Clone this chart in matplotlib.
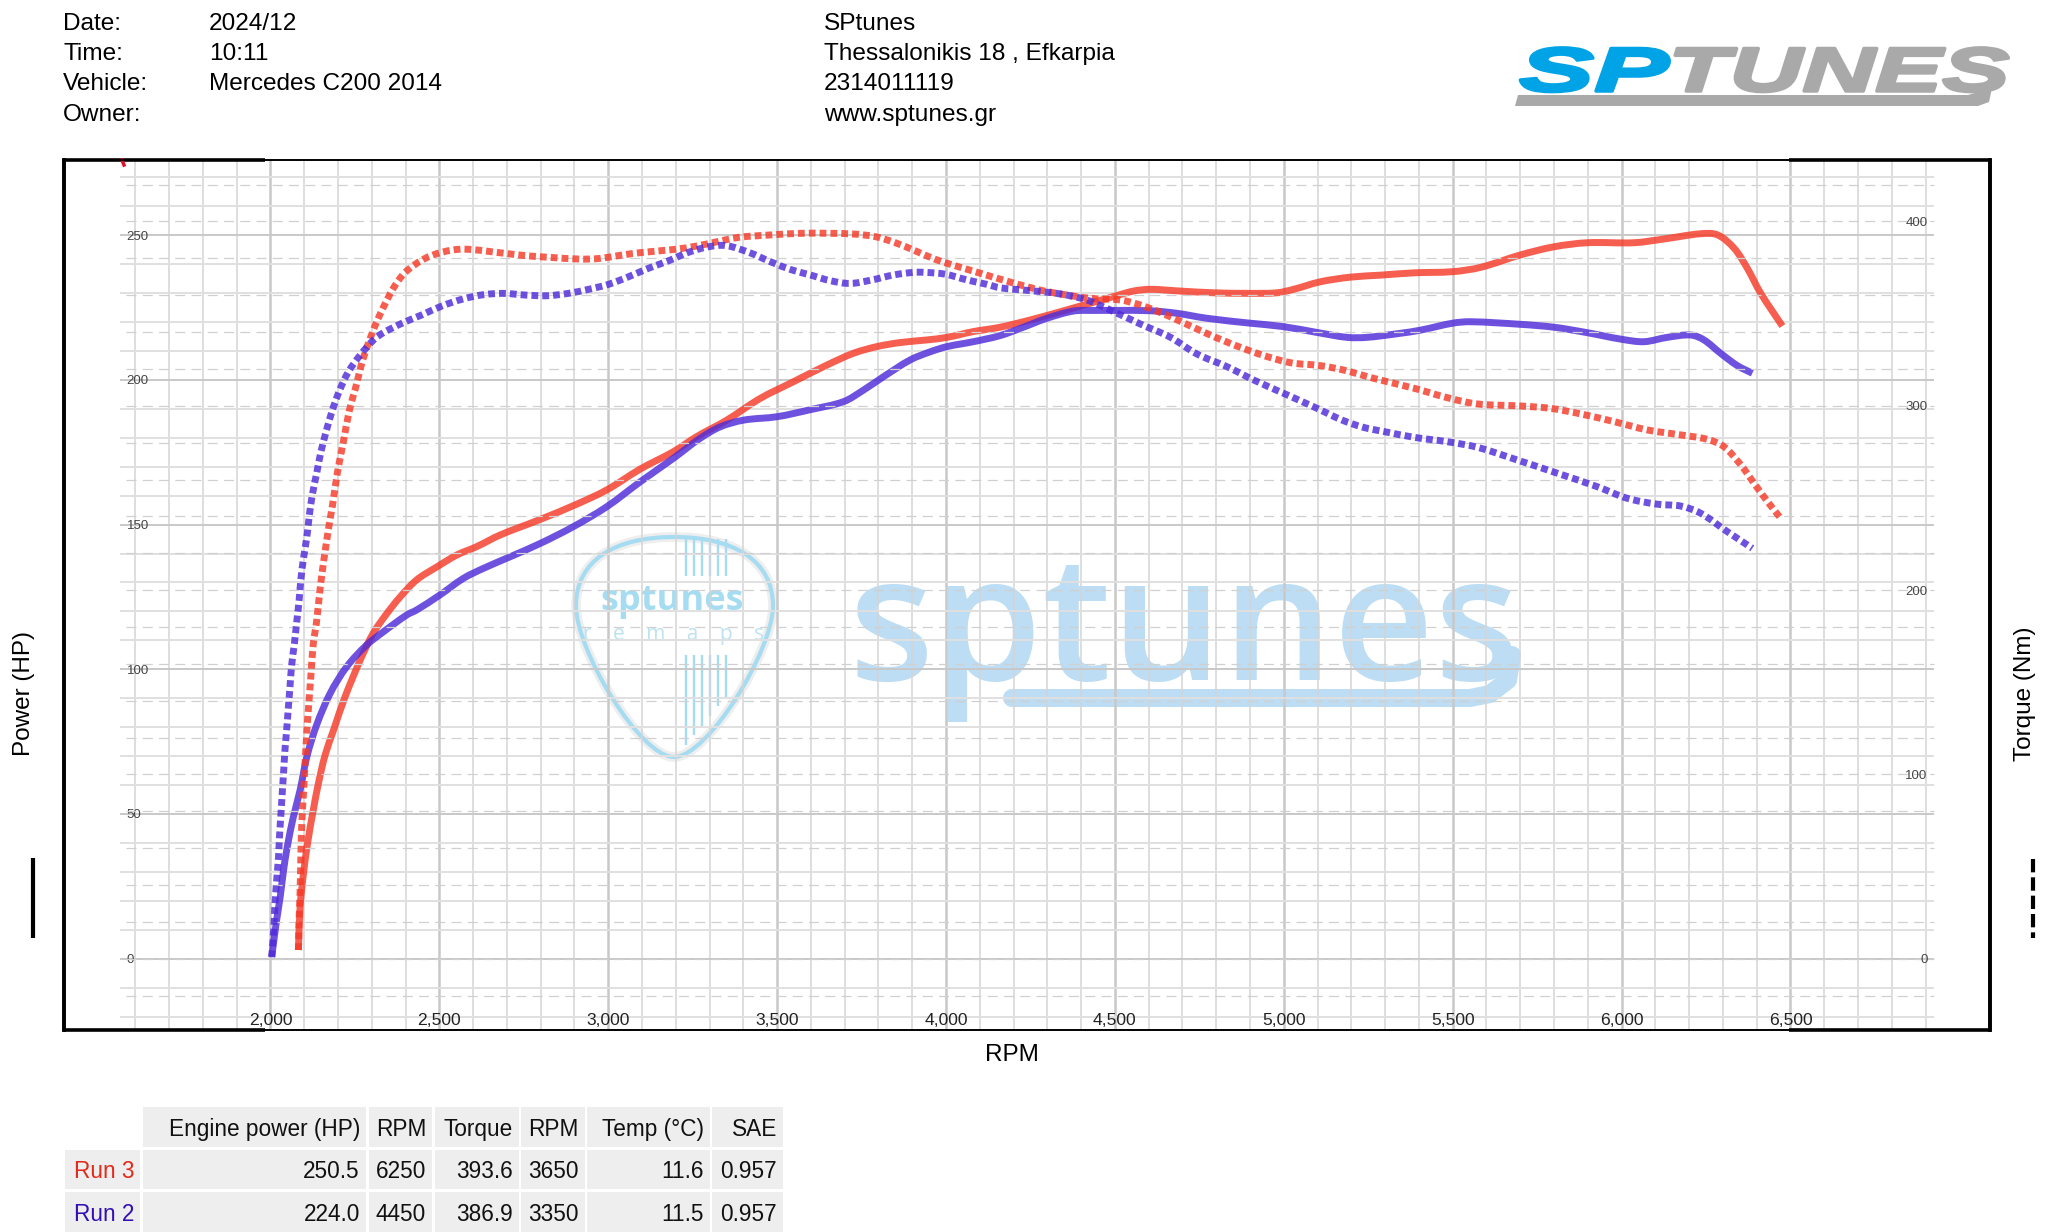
import matplotlib
matplotlib.use("Agg")
import matplotlib.pyplot as plt
import matplotlib.patheffects as pe
import numpy as np
from matplotlib.patches import Rectangle, Polygon, PathPatch
from matplotlib.path import Path
from matplotlib.transforms import Affine2D

plt.rcParams["font.family"] = ["Liberation Sans", "DejaVu Sans"]

# header block
header_keys = ["Date:", "Time:", "Vehicle:", "Owner:"]
header_vals = ["2024/12", "10:11", "Mercedes C200 2014", ""]
shop_lines = ["SPtunes", "Thessalonikis 18 , Efkarpia", "2314011119", "www.sptunes.gr"]

# Run 3 power (HP)
run3_power_rpm = [2083, 2088, 2098, 2110, 2127, 2142, 2162, 2187, 2221, 2266, 2304, 2345, 2384, 2433, 2493,
                  2552, 2611, 2680, 2799, 2902, 2996, 3095, 3193, 3262, 3351, 3450, 3549, 3647, 3726, 3795,
                  3864, 3943, 4003, 4081, 4160, 4259, 4358, 4427, 4496, 4555, 4605, 4693, 4792, 4900, 4980,
                  5029, 5108, 5197, 5287, 5386, 5500, 5583, 5701, 5800, 5899, 6037, 6126, 6234, 6284, 6333,
                  6372, 6412, 6476]
run3_power = [3, 18, 29.5, 39.9, 51.4, 60.5, 70.4, 79, 90.5, 103.2, 112.4, 119.3, 125, 130.9, 135.4,
              139.5, 142.4, 146.4, 151.8, 156.8, 162, 169.2, 175.2, 180.4, 186.1, 193.6, 199.4, 205.1, 209.2, 211.5,
              212.9, 213.8, 214.7, 216.7, 218.2, 221, 224.2, 226.5, 228.8, 230.7, 231.3, 230.7, 230.1, 229.9, 230.1,
              231.3, 233.9, 235.5, 236.2, 237, 237.4, 238.9, 243.2, 246, 247.4, 247.4, 248.7, 250.5, 250.1, 245.5,
              238.6, 229.9, 218.6]

# Run 2 power (HP)
run2_power_rpm = [2004, 2017, 2029, 2039, 2050, 2068, 2088, 2108, 2137, 2177, 2226, 2285, 2335, 2404, 2433,
                  2502, 2571, 2631, 2710, 2799, 2897, 2996, 3095, 3193, 3272, 3332, 3401, 3501, 3598, 3697,
                  3756, 3815, 3894, 3953, 4003, 4081, 4160, 4220, 4299, 4378, 4437, 4496, 4605, 4684, 4772,
                  4900, 4999, 5098, 5187, 5246, 5345, 5405, 5500, 5553, 5701, 5800, 5899, 5997, 6066, 6135,
                  6205, 6244, 6293, 6343, 6387]
run2_power = [0.7, 12.2, 21.4, 30.6, 38.7, 49, 58.3, 69.8, 80.8, 91.7, 100.9, 108.4, 113, 118.8, 120.5,
              125.7, 131.4, 134.9, 138.9, 143.5, 149.3, 156.2, 164.8, 172.9, 179.8, 183.8, 186.1, 187.3, 189.7, 192.5,
              196.5, 201.1, 206.9, 209.7, 211.5, 213.2, 215.3, 217.8, 221.3, 223.8, 224.0, 224.0, 223.9, 223, 221.3,
              219.6, 218.4, 216.4, 214.7, 214.7, 216.1, 217.2, 219.6, 220.1, 219.2, 218.2, 216.3, 214.1, 213.2, 214.7,
              215.5, 213.8, 209.2, 204.9, 202.3]

# Run 3 torque (Nm)
run3_torque_rpm = [2083, 2085, 2088, 2090, 2093, 2098, 2108, 2113, 2120, 2127, 2137, 2147, 2159, 2173, 2184,
                   2198, 2216, 2234, 2251, 2275, 2308, 2333, 2364, 2399, 2453, 2507, 2572, 2695, 2759, 2823,
                   2917, 2976, 3040, 3105, 3198, 3262, 3322, 3386, 3480, 3573, 3650, 3726, 3790, 3850, 3909,
                   3968, 4027, 4086, 4151, 4269, 4338, 4427, 4516, 4585, 4664, 4753, 4841, 4930, 5019, 5108,
                   5177, 5266, 5386, 5484, 5573, 5701, 5790, 5879, 5978, 6076, 6175, 6254, 6303, 6353, 6392,
                   6432, 6471]
run3_torque = [4.7, 21, 37.3, 54, 73.5, 90, 124, 136.7, 154, 171, 183.3, 200.6, 217.3, 234.4, 246.2,
               263.4, 280.5, 297.7, 309, 325.8, 342.6, 352.9, 363.8, 372.4, 379.5, 383.3, 385, 382.7, 381.4, 380.6,
               379.6, 380, 381.8, 383.3, 384.9, 386.7, 389, 391.4, 392.7, 393.6, 393.6, 393.2, 391.8, 388.5, 384.1,
               379.5, 376, 372.8, 369.2, 363.2, 360.7, 358.3, 357.4, 354.1, 348.3, 340.8, 333.9, 327.9, 323.4, 321.8,
               319.4, 314.9, 309.5, 304.4, 301, 299.9, 298.6, 295.6, 291.4, 286.9, 284.2, 281.8, 277.8, 267.9, 258,
               248, 239]

# Run 2 torque (Nm)
run2_torque_rpm = [2004, 2007, 2011, 2014, 2019, 2024, 2027, 2031, 2035, 2039, 2043, 2048, 2053, 2058, 2063,
                   2071, 2078, 2085, 2090, 2098, 2108, 2115, 2124, 2137, 2149, 2165, 2182, 2204, 2231, 2268,
                   2307, 2335, 2392, 2448, 2507, 2571, 2631, 2690, 2754, 2818, 2882, 2942, 3001, 3060, 3119,
                   3179, 3238, 3297, 3350, 3420, 3480, 3539, 3598, 3657, 3716, 3781, 3845, 3904, 3938, 3998,
                   4062, 4121, 4161, 4249, 4338, 4417, 4486, 4575, 4664, 4743, 4832, 4911, 4999, 5088, 5172,
                   5236, 5297, 5386, 5484, 5573, 5691, 5810, 5928, 6017, 6106, 6175, 6234, 6313, 6387]
run2_torque = [0.8, 8.4, 20, 31, 43.6, 55.3, 66.6, 78, 89.7, 101, 112.9, 124, 135.9, 147.6, 159.4,
               171, 182.8, 194.4, 205.5, 217.3, 229, 240.2, 251.6, 263.4, 274.6, 286, 296.8, 308, 318.5, 328,
               336, 339.7, 345, 349.3, 354.1, 358, 360.3, 361, 360.1, 359.7, 361, 363.2, 365.9, 370, 374.6,
               378.7, 383.3, 386.3, 386.9, 383, 378.2, 374, 371, 367.9, 366.4, 368.3, 371, 372.4, 372.4, 371.4,
               368.3, 365.9, 364, 362.5, 360.7, 357.4, 352, 344.4, 337.2, 328.1, 321.2, 314, 306.8, 299.5, 292.3,
               288.3, 286, 282.9, 280.5, 277.5, 270.6, 263.4, 256.1, 249.8, 246.6, 245.6, 241.7, 231.7, 222.7]

# axis ticks
rpm_ticks = [2000, 2500, 3000, 3500, 4000, 4500, 5000, 5500, 6000, 6500]
power_ticks = [0, 50, 100, 150, 200, 250]
torque_ticks = [0, 100, 200, 300, 400]

# results table
table_columns = ["Engine power (HP)", "RPM", "Torque", "RPM", "Temp (°C)", "SAE"]
table_runs = ["Run 3", "Run 2"]
table_run3 = ["250.5", "6250", "393.6", "3650", "11.6", "0.957"]
table_run2 = ["224.0", "4450", "386.9", "3350", "11.5", "0.957"]

RED = "#f53a28"
PURPLE = "#4f2bd8"
SKY = "#bcddf3"
PICK = "#a6dcf1"
W, H = 2048, 1232


class Stretch(pe.AbstractPathEffect):
    # widen text sideways, keeps it a text object
    def __init__(self, sx, stroke=2.5):
        super().__init__()
        self.sx = sx
        self.stroke = stroke

    def draw_path(self, renderer, gc, tpath, affine, rgbFace=None):
        x0 = affine.get_matrix()[0, 2]
        extra = Affine2D().translate(-x0, 0).scale(self.sx, 1).translate(x0, 0)
        gc0 = renderer.new_gc()
        gc0.copy_properties(gc)
        gc0.set_linewidth(self.stroke)
        gc0.set_foreground(rgbFace)
        renderer.draw_path(gc0, tpath, affine + extra, rgbFace)
        gc0.restore()


def curve_path(rpm, vals, y_scale):
    # bezier through the read points, tangents worked out in pixel space
    pts = np.column_stack([np.asarray(rpm) * 0.3378, np.asarray(vals) * y_scale])
    tang = np.gradient(pts, axis=0)
    tang /= np.linalg.norm(tang, axis=1, keepdims=True)
    verts = [pts[0]]
    for i in range(len(pts) - 1):
        seg = np.linalg.norm(pts[i + 1] - pts[i]) / 3
        verts += [pts[i] + tang[i] * seg, pts[i + 1] - tang[i + 1] * seg, pts[i + 1]]
    verts = np.array(verts) / [0.3378, y_scale]
    return Path(verts, [Path.MOVETO] + [Path.CURVE4] * (len(verts) - 1))


fig = plt.figure(figsize=(W / 100, H / 100), dpi=100)
fig.patch.set_facecolor("white")
px = Affine2D().scale(1, -1).translate(0, H)  # pixel coordinates, from top left

# plot box
left, right, top, bottom = 63.5, 1990.0, 160.0, 1030.0
ax = fig.add_axes([left / W, 1 - bottom / H, (right - left) / W, (bottom - top) / H])
rpm_per_px = 1 / 0.3378
ax.set_xlim(2000 + (left - 270.4) * rpm_per_px, 2000 + (right - 270.4) * rpm_per_px)
ax.set_ylim((958.7 - bottom) / 2.894, (958.7 - top) / 2.894)
ax.patch.set_visible(False)
ax2 = ax.twinx()
ax2.set_ylim((958.7 - bottom) / 1.843, (958.7 - top) / 1.843)
ax2.patch.set_visible(False)

# grid
x_grid = np.arange(1600, 7000, 100)
for x in x_grid:
    major = x % 500 == 0
    ax.axvline(x, color="#c8c8c8" if major else "#d4d4d4", lw=1.8 if major else 1.1, zorder=1)
x_a, x_b = 2000 + (120.5 - 270.4) * rpm_per_px, 2000 + (1934 - 270.4) * rpm_per_px
for y in np.arange(-20, 280, 10):
    major = y % 50 == 0
    ax.hlines(y, x_a, x_b, color="#c8c8c8" if major else "#e0e0e0", lw=1.4, zorder=1)
for y in np.arange(-20, 440, 20):
    ax2.hlines(y, x_a + 15, x_b, color="#d0d0d0", lw=0.9, linestyles=(0, (8, 5)), zorder=1)

# curves
for rpm, vals, col in ((run3_power_rpm, run3_power, RED), (run2_power_rpm, run2_power, PURPLE)):
    ax.add_patch(PathPatch(curve_path(rpm, vals, 2.894), fc="none", ec=col, lw=5.0, alpha=0.82, zorder=3,
                           joinstyle="round", capstyle="butt"))
for rpm, vals, col in ((run3_torque_rpm, run3_torque, RED), (run2_torque_rpm, run2_torque, PURPLE)):
    ax2.add_patch(PathPatch(curve_path(rpm, vals, 1.843), fc="none", ec=col, lw=5.0, alpha=0.82, zorder=3,
                            linestyle=(0, (0.98, 0.58)), capstyle="butt"))

# tick labels sit inside the box
ax.set_xticks(rpm_ticks)
ax.set_xticklabels([f"{v:,}" for v in rpm_ticks], fontsize=12.6, color="#222222")
ax.tick_params(axis="x", length=0, pad=-12.5)
ax.set_yticks(power_ticks)
ax.tick_params(axis="y", length=0, pad=-45.5, labelsize=9.5, labelcolor="#444444")
for lab in ax.get_yticklabels():
    lab.set_ha("left")
ax2.set_yticks(torque_ticks)
ax2.tick_params(axis="y", length=0, pad=-45, labelsize=9.5, labelcolor="#444444")
for lab in ax2.get_yticklabels():
    lab.set_ha("right")

# frame: thin in the middle, heavy at the ends
for a in (ax, ax2):
    for side in ("top", "bottom"):
        a.spines[side].set_linewidth(1.2)
    for side in ("left", "right"):
        a.spines[side].set_linewidth(2.6)
for x0, x1 in ((left, 265), (1789, right)):
    for y0 in (top, bottom):
        ax.plot([x0, x1], [y0, y0], color="black", lw=2.6, transform=px, clip_on=False, zorder=5,
                solid_capstyle="butt")
ax.plot([122, 124], [160, 165], color="#e0102a", lw=2.5, transform=px, clip_on=False, zorder=5)

# watermark
ax.text(849, 680, "sptunes", transform=px, fontsize=126, family="Open Sans", weight="semibold", color=SKY,
        ha="left", va="baseline", zorder=0.5)
ax.plot([1012, 1470, 1490, 1508, 1512], [698, 698, 694, 680, 655], color=SKY, lw=13, transform=px,
        zorder=0.5, solid_capstyle="round", solid_joinstyle="round")
pick = Path([(674, 537), (615, 537), (576, 560), (576, 606), (576, 650), (640, 757), (674, 757),
             (708, 757), (773, 650), (773, 606), (773, 560), (733, 537), (674, 537)],
            [Path.MOVETO] + [Path.CURVE4] * 12)
ax.add_patch(PathPatch(pick, fc="none", ec="#eeeeee", lw=7, transform=px, zorder=0.4))
ax.add_patch(PathPatch(pick, fc="none", ec=PICK, lw=3, transform=px, zorder=0.5))
for x in np.linspace(686, 726, 6):
    ax.plot([x, x], [539, 576], color=PICK, lw=1.7, transform=px, zorder=0.5, solid_capstyle="butt")
    ax.plot([x, x], [655, 752 - abs(x - 680) * 1.2], color=PICK, lw=1.7, transform=px, zorder=0.5,
            solid_capstyle="butt")
ax.text(672, 610, "sptunes", transform=px, fontsize=26, family="Open Sans", weight="bold", color=PICK,
        ha="center", va="baseline", zorder=0.5)
ax.text(674, 640, "r    e    m    a    p    s", transform=px, fontsize=15, family="Open Sans", color="#bde3f3",
        ha="center", va="baseline", zorder=0.6)

# axis titles and line key
fig.text(24 / W, 1 - 693 / H, "Power (HP)", rotation=90, fontsize=17.5, ha="center", va="center")
fig.text(2025 / W, 1 - 694 / H, "Torque (Nm)", rotation=90, fontsize=17.5, ha="center", va="center")
fig.text(1012 / W, 1 - 1055 / H, "RPM", fontsize=17.5, ha="center", va="center")
ax.plot([33, 33], [858, 938], color="black", lw=3, transform=px, clip_on=False, solid_capstyle="butt")
ax.plot([2033, 2033], [859, 938], color="black", lw=3, transform=px, clip_on=False,
        linestyle=(0, (3.2, 1.2)), dash_capstyle="butt")

# header
for i, y in enumerate([30, 60, 90, 121]):
    fig.text(63 / W, 1 - y / H, header_keys[i], fontsize=17.6, va="baseline")
    fig.text(209 / W, 1 - y / H, header_vals[i], fontsize=17.6, va="baseline")
    fig.text(824 / W, 1 - y / H, shop_lines[i], fontsize=17.6, va="baseline")

# logo
logo_sp = fig.text(1519 / W, 1 - 91 / H, "SP", fontsize=44.5, weight="bold", style="italic", color="#00a3e6",
                   va="baseline")
logo_sp.set_path_effects([Stretch(1.82)])
logo_tunes = fig.text(1668 / W, 1 - 91 / H, "TUNES", fontsize=44.5, weight="bold", style="italic", color="#a9a9a9",
                      va="baseline")
logo_tunes.set_path_effects([Stretch(1.63)])
fig.add_artist(Polygon([(1515, 106), (1518, 95), (1968, 95), (1985, 90), (1995, 74), (1989, 102), (1978, 106)],
                       closed=True, fc="#a9a9a9", ec="none", transform=px))

# table
col_edges = [(143, 366), (369, 432), (435, 519), (521, 585), (587, 710), (712, 783)]
row_edges = [(1107, 1147), (1150, 1189), (1192, 1232)]
CELL = "#eeeeee"
for (x0, x1), head, v3, v2 in zip(col_edges, table_columns, table_run3, table_run2):
    for (y0, y1), txt in zip(row_edges, (head, v3, v2)):
        fig.add_artist(Rectangle((x0, y0), x1 - x0, y1 - y0, fc=CELL, ec="none", transform=px))
        fig.text((x1 - 6) / W, 1 - (y0 + y1) / 2 / H, txt, fontsize=16.3, color="#111111", ha="right", va="center_baseline")
for (y0, y1), name, col in zip(row_edges[1:], table_runs, ("#e12a1a", "#3410b4")):
    fig.add_artist(Rectangle((65, y0), 75, y1 - y0, fc=CELL, ec="none", transform=px))
    fig.text(74 / W, 1 - (y0 + y1) / 2 / H, name, fontsize=16.3, color=col, ha="left", va="center_baseline")

fig.savefig("out.png", dpi=100)
